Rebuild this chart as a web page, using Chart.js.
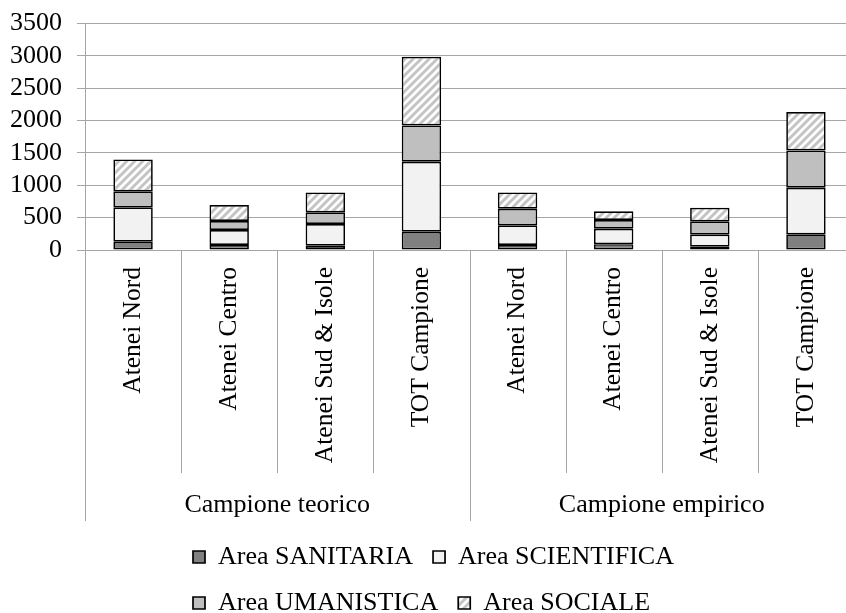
<!DOCTYPE html>
<html>
<head>
<meta charset="utf-8">
<script src="https://cdn.jsdelivr.net/npm/chart.js@4"></script>
<style>
  html, body { margin: 0; padding: 0; background: #fff; overflow: hidden; }
  #wrap { width: 862px; height: 613px; }
</style>
</head>
<body>
<div id="wrap"><canvas id="chart"></canvas></div>
<script>
// values
const categories = ['Atenei Nord', 'Atenei Centro', 'Atenei Sud & Isole', 'TOT Campione',
                    'Atenei Nord', 'Atenei Centro', 'Atenei Sud & Isole', 'TOT Campione'];
const groups = ['Campione teorico', 'Campione empirico'];
const sanitaria   = [128, 77, 65, 283, 77, 90, 51, 242];
const scientifica = [531, 232, 336, 1080, 304, 239, 186, 720];
const umanistica  = [247, 139, 181, 562, 257, 134, 206, 577];
const sociale     = [494, 247, 308, 1060, 252, 134, 210, 592];
const yMax = 3500;
const yStep = 500;

const GRID = '#a6a6a6';

function hatch() {
  const c = document.createElement('canvas');
  c.width = 8; c.height = 8;
  const g = c.getContext('2d');
  g.fillStyle = '#fff';
  g.fillRect(0, 0, 8, 8);
  g.strokeStyle = '#c4c4c4';
  g.lineWidth = 3;
  g.beginPath();
  g.moveTo(0, 8); g.lineTo(8, 0);
  g.moveTo(-4, 4); g.lineTo(4, -4);
  g.moveTo(4, 12); g.lineTo(12, 4);
  g.stroke();
  return g.createPattern(c, 'repeat');
}

// vertical separators under the category axis; legend rows start left-aligned like the source
const dividers = {
  id: 'dividers',
  afterLayout(chart) {
    const l = chart.legend;
    const w = l.right - l.left;
    l.left = 173;
    l.right = l.left + w;
    l.top += 3;
    l.bottom += 3;
  },
  afterDraw(chart) {
    const x = chart.scales.x, x2 = chart.scales.x2, ctx = chart.ctx;
    const half = (x.getPixelForValue(1) - x.getPixelForValue(0)) / 2;
    const perGroup = categories.length / groups.length;
    ctx.save();
    ctx.strokeStyle = GRID;
    ctx.lineWidth = 1;
    for (let i = 0; i <= categories.length; i++) {
      const px = Math.round(x.getPixelForValue(i) - half) + 0.5;
      ctx.beginPath();
      ctx.moveTo(px, x.top);
      ctx.lineTo(px, i % perGroup === 0 ? x2.bottom : x.bottom);
      ctx.stroke();
    }
    ctx.restore();
  }
};

Chart.defaults.font.family = "'Liberation Serif', 'Times New Roman', serif";
Chart.defaults.font.size = 26;
Chart.defaults.color = '#000';

function ds(label, data, color) {
  return {
    label: label,
    data: data,
    backgroundColor: color,
    borderColor: '#000',
    borderWidth: 1.7,
    borderSkipped: false,
    barPercentage: 0.41,
    categoryPercentage: 1
  };
}

new Chart(document.getElementById('chart'), {
  type: 'bar',
  data: {
    labels: categories,
    datasets: [
      ds('Area SANITARIA', sanitaria, '#808080'),
      ds('Area SCIENTIFICA', scientifica, '#f2f2f2'),
      ds('Area UMANISTICA', umanistica, '#bfbfbf'),
      ds('Area SOCIALE', sociale, hatch())
    ]
  },
  options: {
    responsive: true,
    maintainAspectRatio: false,
    animation: false,
    layout: { padding: { top: 16, left: 10, right: 8, bottom: 0 } },
    scales: {
      x: {
        stacked: true,
        weight: 0,
        grid: { display: false, drawTicks: false },
        border: { display: true, color: GRID },
        ticks: { maxRotation: 90, minRotation: 90, autoSkip: false, padding: 17, font: { size: 25.5 } },
        afterFit: s => { s.height = 223; }
      },
      x2: {
        type: 'category',
        labels: groups,
        position: 'bottom',
        offset: true,
        weight: 1,
        grid: { display: false, drawTicks: false },
        border: { display: false },
        ticks: { padding: 17 },
        afterFit: s => { s.height = 48; }
      },
      y: {
        stacked: true,
        min: 0,
        max: yMax,
        ticks: { stepSize: yStep, padding: 15, autoSkip: false, font: { lineHeight: 0.65 }, callback: v => String(v) },
        grid: { color: GRID, tickLength: 8 },
        border: { color: GRID },
        afterFit: s => { s.width = 75; }
      }
    },
    plugins: {
      legend: {
        position: 'bottom',
        align: 'start',
        fullSize: false,
        maxHeight: 92,
        labels: { boxWidth: 12, boxHeight: 12, padding: 20 }
      },
      tooltip: { enabled: false }
    }
  },
  plugins: [dividers]
});
</script>
</body>
</html>
